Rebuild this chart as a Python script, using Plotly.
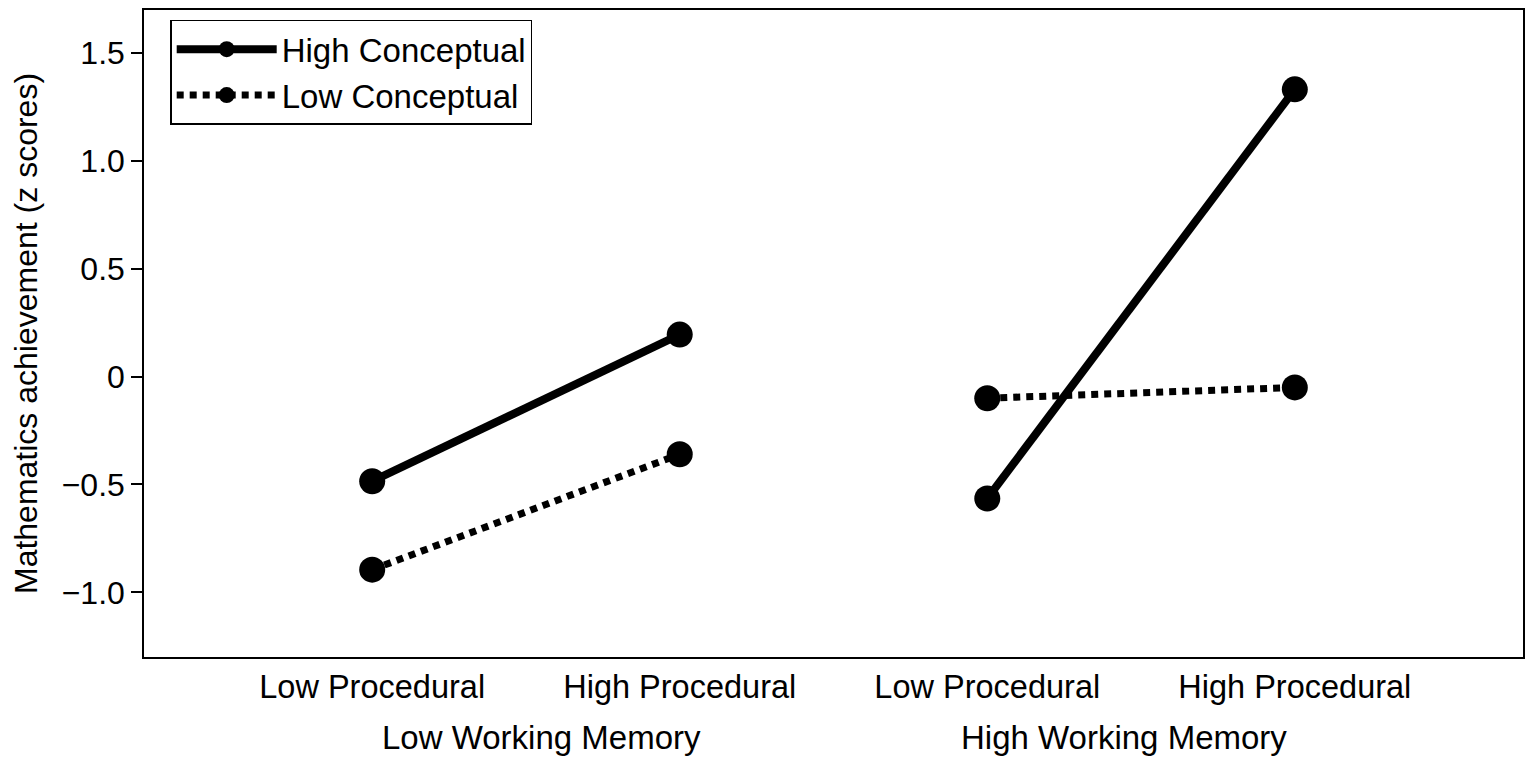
import plotly.graph_objects as go

# x positions: 4 conditions, two working-memory groups
conditions = ["Low Procedural", "High Procedural", "Low Procedural", "High Procedural"]
groups = ["Low Working Memory", "High Working Memory"]
xpos = [1, 2, 3, 4]

high_conceptual = [-0.485, 0.195, -0.565, 1.332]
low_conceptual = [-0.895, -0.36, -0.10, -0.05]

ytick_vals = [-1.0, -0.5, 0, 0.5, 1.0, 1.5]
ytick_text = ["\u22121.0", "\u22120.5", "0", "0.5", "1.0", "1.5"]

FONT = "Liberation Sans, Arial, sans-serif"
INK = "black"


def split_groups(vals):
    # break the line between the two working-memory groups
    xs = xpos[:2] + [None] + xpos[2:]
    ys = vals[:2] + [None] + vals[2:]
    return xs, ys


fig = go.Figure()
xs, ys = split_groups(high_conceptual)
fig.add_trace(go.Scatter(
    x=xs, y=ys, mode="lines+markers", name="High Conceptual",
    line=dict(color=INK, width=8),
    marker=dict(color=INK, size=26),
    connectgaps=False,
))
xs, ys = split_groups(low_conceptual)
fig.add_trace(go.Scatter(
    x=xs, y=ys, mode="lines+markers", name="Low Conceptual",
    line=dict(color=INK, width=7, dash="7px,6px"),
    marker=dict(color=INK, size=26),
    connectgaps=False,
))

# group labels under the condition labels
for i, g in enumerate(groups):
    center = (xpos[2 * i] + xpos[2 * i + 1]) / 2
    fig.add_annotation(
        x=center, y=0, xref="x", yref="paper", yanchor="top",
        yshift=-60, xshift=16 if i == 0 else -17,
        text=g, showarrow=False, font=dict(size=33, color=INK, family=FONT),
    )

fig.update_xaxes(
    range=[0.258, 4.742],
    tickvals=xpos, ticktext=conditions,
    ticks="", ticklabelstandoff=0,
    showgrid=False, zeroline=False,
    showline=True, linecolor=INK, linewidth=1.5, mirror=True,
    tickfont=dict(size=32.5, color=INK, family=FONT),
)
fig.update_yaxes(
    range=[-1.30, 1.70],
    tickvals=ytick_vals, ticktext=ytick_text,
    ticks="outside", ticklen=11, tickwidth=1.5, tickcolor=INK,
    showgrid=False, zeroline=False,
    showline=True, linecolor=INK, linewidth=1.5, mirror=True,
    tickfont=dict(size=32, color=INK, family=FONT),
    title=dict(text="Mathematics achievement (z scores)", standoff=20,
               font=dict(size=32, color=INK, family=FONT)),
)
fig.update_layout(
    width=1519, height=748,
    margin=dict(l=136, r=4, t=0, b=99),
    paper_bgcolor="white", plot_bgcolor="white",
    font=dict(family=FONT, color=INK),
    showlegend=True,
    legend=dict(
        x=0.019, y=0.985, xanchor="left", yanchor="top",
        bgcolor="white", bordercolor=INK, borderwidth=1.5,
        font=dict(size=33, color=INK, family=FONT),
        itemwidth=100, tracegroupgap=0,
    ),
)

fig.write_html("out.html")
